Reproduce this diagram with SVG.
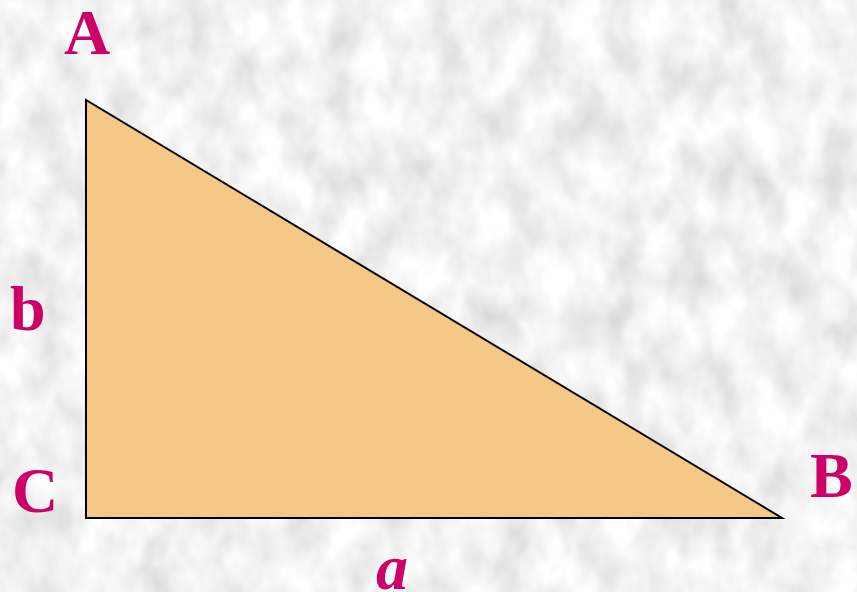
<svg xmlns="http://www.w3.org/2000/svg" width="857" height="592" viewBox="0 0 857 592">
  <defs>
    <filter id="marble" x="0" y="0" width="100%" height="100%" filterUnits="userSpaceOnUse">
      <feTurbulence type="fractalNoise" baseFrequency="0.028 0.02" numOctaves="3" seed="7" result="n"/>
      <feColorMatrix in="n" type="matrix" values="0.5 0 0 0 0.64  0.5 0 0 0 0.64  0.5 0 0 0 0.64  0 0 0 0 1"/>
    </filter>
    <style>
      .lbl { font-family: "Liberation Serif", "Times New Roman", serif; font-weight: bold; font-size: 64px; fill: #CC0066; }
      .it { font-style: italic; }
      .tri { fill: #F5C886; stroke: #000000; stroke-width: 2; stroke-linejoin: miter; }
    </style>
  </defs>
  <rect id="background" x="0" y="0" width="857" height="592" fill="#e8e8e8"/>
  <rect x="0" y="0" width="857" height="592" filter="url(#marble)"/>
  <g id="triangle">
    <polygon class="tri" points="86,100 86,518 782,518"/>
  </g>
  <g id="labels">
    <text id="label-A" class="lbl" x="64" y="54">A</text>
    <text id="label-b" class="lbl" x="10" y="330">b</text>
    <text id="label-C" class="lbl" x="12" y="512">C</text>
    <text id="label-B" class="lbl" x="810" y="497">B</text>
    <text id="label-a" class="lbl it" x="376" y="589">a</text>
  </g>
</svg>
